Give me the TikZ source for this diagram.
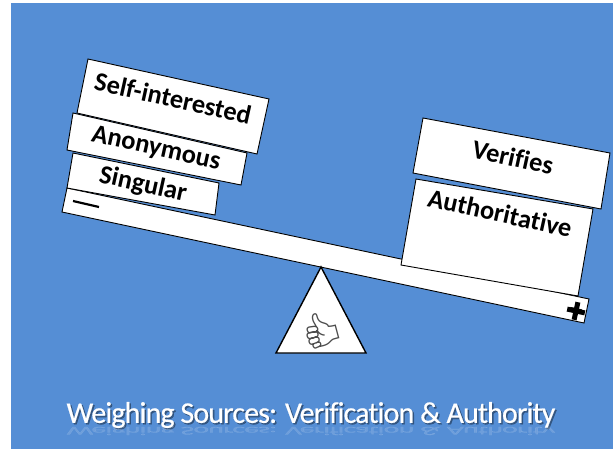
\documentclass[tikz,border=0pt]{standalone}
\usepackage{fontspec}
\setmainfont[Ligatures=NoCommon]{Carlito}
\newfontfamily\thumbfont{Noto Emoji}
\newfontfamily\bannerfont[Ligatures=NoCommon, LetterSpace=-2.9, FakeBold=0.5]{Carlito}
\definecolor{slideblue}{RGB}{85,142,213}
\tikzset{
    plank/.style={draw=black, fill=white, line width=0.9pt, line join=miter},
    plate/.style={font=\bfseries\fontsize{26.4}{26.4}\selectfont, rotate=-12.5, inner sep=0pt},
    banner/.style={font=\bannerfont\fontsize{30}{30}\selectfont, inner sep=0pt},
}
\begin{document}
\begin{tikzpicture}[x=1pt, y=-1pt]
    \useasboundingbox (0, 0) rectangle (613, 449);
    \fill[slideblue] (11, 3) rectangle (613, 449);
    % beam and pivot
    \filldraw[plank] (67, 188) -- (589, 299) -- (584, 323) -- (62, 212) -- cycle;
    \filldraw[draw=black, fill=white, line width=1.4pt, line join=miter] (321, 267) -- (366, 353) -- (276, 353) -- cycle;
    \node[text=black!70, font=\thumbfont\fontsize{34}{34}\selectfont, rotate=15, xscale=-1, inner sep=0pt] (thumb) at (321, 330) {👍};
    % left pan
    \filldraw[plank] (73, 153) -- (219, 183) -- (215, 215) -- (67, 188) -- cycle;
    \filldraw[plank] (88, 59) -- (269, 99) -- (257, 154) -- (77, 113) -- cycle;
    \filldraw[plank] (73, 113) -- (247, 153) -- (241, 185) -- (67, 150) -- cycle;
    \node[plate] (selfint) at (173, 98) {Self-interested};
    \node[plate] (anon) at (156, 149) {Anonymous};
    \node[plate] (single) at (143, 185) {Singular};
    \draw[line width=2.2pt] (73, 201) -- (99, 207);
    % right pan
    \filldraw[plank] (416, 179) -- (593, 209) -- (578, 296) -- (401, 265) -- cycle;
    \filldraw[plank] (423, 118) -- (610, 153) -- (601, 209) -- (413, 173) -- cycle;
    \node[plate] (verifies) at (513, 157) {Verifies};
    \node[plate] (auth) at (500, 213) {Authoritative};
    \node[font=\bfseries\fontsize{26}{26}\selectfont, rotate=-12, inner sep=0pt] (plus) at (576, 311) {+};
    \draw[line width=5pt] (plus.center) ++ (-8.8, -1.9) -- ++ (17.6, 3.8);
    \draw[line width=5pt] (plus.center) ++ (1.9, -8.8) -- ++ (-3.8, 17.6);
    % caption with shadow and reflection
    \node[banner, text=black!70!slideblue, opacity=0.55] at (312.5, 416.5) {Weighing Sources: Verification \& Authority};
    \node[banner, text=white, opacity=0.15, yscale=-0.4] (mirror) at (311, 430) {Weighing Sources: Verification \& Authority};
    \node[banner, text=white] (title) at (311, 415) {Weighing Sources: Verification \& Authority};
\end{tikzpicture}
\end{document}
